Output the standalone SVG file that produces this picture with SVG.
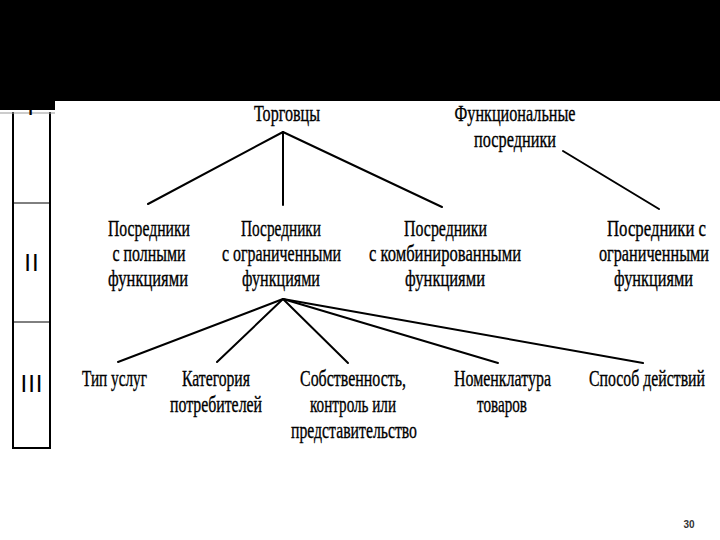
<svg xmlns="http://www.w3.org/2000/svg" width="720" height="540" viewBox="0 0 720 540">
<style>
.t{font-family:"Liberation Serif","Times New Roman",serif;font-size:22.5px;fill:#000;stroke:#000;stroke-width:0.35;text-anchor:middle}
.lv{font-family:"Liberation Sans",Arial,sans-serif;font-size:24px;fill:#000;text-anchor:middle;letter-spacing:1px}
.c{stroke:#000;stroke-width:2;fill:none;stroke-linecap:round}
.pg{font-family:"Liberation Sans",Arial,sans-serif;font-size:10px;font-weight:bold;fill:#333;text-anchor:middle}
</style>
<rect width="720" height="540" fill="#fff"/>
<g id="levels">
<line x1="13" y1="112" x2="13" y2="448" stroke="#000" stroke-width="2"/>
<line x1="50" y1="112" x2="50" y2="448" stroke="#000" stroke-width="2"/>
<line x1="13" y1="203" x2="50" y2="203" stroke="#000" stroke-width="1"/>
<line x1="13" y1="322" x2="50" y2="322" stroke="#000" stroke-width="1"/>
<line x1="12" y1="448" x2="51" y2="448" stroke="#000" stroke-width="2"/>
<line x1="0" y1="113" x2="55" y2="113" stroke="#999" stroke-width="1"/>
<text class="lv" x="31" y="115">I</text>
<text class="lv" x="32" y="271">II</text>
<text class="lv" x="32" y="392">III</text>
</g>
<rect x="0" y="0" width="720" height="101" fill="#000"/>
<rect x="0" y="0" width="55" height="110" fill="#000"/>
<g id="connectors">
<line class="c" x1="283" y1="132" x2="148" y2="204"/>
<line class="c" x1="283" y1="132" x2="283" y2="205"/>
<line class="c" x1="283" y1="132" x2="442" y2="207"/>
<line class="c" x1="563" y1="151" x2="659" y2="209"/>
<line class="c" x1="283" y1="299" x2="118" y2="362"/>
<line class="c" x1="283" y1="299" x2="217" y2="362"/>
<line class="c" x1="283" y1="299" x2="348" y2="363"/>
<line class="c" x1="283" y1="299" x2="498" y2="363"/>
<line class="c" x1="283" y1="299" x2="643" y2="363"/>
</g>
<g id="n-torgovtsy"><text class="t" transform="translate(287,121) scale(0.72,1)" textLength="91.7" lengthAdjust="spacingAndGlyphs">Торговцы</text></g>
<g id="n-funktsionalnye">
<text class="t" transform="translate(515,121) scale(0.72,1)" textLength="168" lengthAdjust="spacingAndGlyphs">Функциональные</text>
<text class="t" transform="translate(515,147) scale(0.72,1)" textLength="113.9" lengthAdjust="spacingAndGlyphs">посредники</text>
</g>
<g id="n-polnye">
<text class="t" transform="translate(149,236) scale(0.72,1)" textLength="113.9" lengthAdjust="spacingAndGlyphs">Посредники</text>
<text class="t" transform="translate(149,261) scale(0.72,1)" textLength="101.4" lengthAdjust="spacingAndGlyphs">с  полными</text>
<text class="t" transform="translate(148,286) scale(0.72,1)" textLength="111.1" lengthAdjust="spacingAndGlyphs">функциями</text>
</g>
<g id="n-ogranichennye">
<text class="t" transform="translate(281,236) scale(0.72,1)" textLength="111.1" lengthAdjust="spacingAndGlyphs">Посредники</text>
<text class="t" transform="translate(281.5,261) scale(0.72,1)" textLength="165.3" lengthAdjust="spacingAndGlyphs">с  ограниченными</text>
<text class="t" transform="translate(281,286) scale(0.72,1)" textLength="108.3" lengthAdjust="spacingAndGlyphs">функциями</text>
</g>
<g id="n-kombinirovannye">
<text class="t" transform="translate(445.5,236) scale(0.72,1)" textLength="115.3" lengthAdjust="spacingAndGlyphs">Посредники</text>
<text class="t" transform="translate(445,261) scale(0.72,1)" textLength="211.1" lengthAdjust="spacingAndGlyphs">с  комбинированными</text>
<text class="t" transform="translate(445,286) scale(0.72,1)" textLength="111.1" lengthAdjust="spacingAndGlyphs">функциями</text>
</g>
<g id="n-funk-ogranichennye">
<text class="t" transform="translate(656.5,236) scale(0.72,1)" textLength="137.5" lengthAdjust="spacingAndGlyphs">Посредники  с</text>
<text class="t" transform="translate(654,261) scale(0.72,1)" textLength="152.8" lengthAdjust="spacingAndGlyphs">ограниченными</text>
<text class="t" transform="translate(653.5,286) scale(0.72,1)" textLength="109.7" lengthAdjust="spacingAndGlyphs">функциями</text>
</g>
<g id="n-tip"><text class="t" transform="translate(114.5,386) scale(0.72,1)" textLength="90.3" lengthAdjust="spacingAndGlyphs">Тип  услуг</text></g>
<g id="n-kategoriya">
<text class="t" transform="translate(216,386) scale(0.72,1)" textLength="94.4" lengthAdjust="spacingAndGlyphs">Категория</text>
<text class="t" transform="translate(216,412) scale(0.72,1)" textLength="127.8" lengthAdjust="spacingAndGlyphs">потребителей</text>
</g>
<g id="n-sobstvennost">
<text class="t" transform="translate(353,386) scale(0.72,1)" textLength="147.2" lengthAdjust="spacingAndGlyphs">Собственность,</text>
<text class="t" transform="translate(353,412) scale(0.72,1)" textLength="119.4" lengthAdjust="spacingAndGlyphs">контроль или</text>
<text class="t" transform="translate(354,438) scale(0.72,1)" textLength="175" lengthAdjust="spacingAndGlyphs">представительство</text>
</g>
<g id="n-nomenklatura">
<text class="t" transform="translate(502.5,386) scale(0.72,1)" textLength="134.7" lengthAdjust="spacingAndGlyphs">Номенклатура</text>
<text class="t" transform="translate(502,412) scale(0.72,1)" textLength="69.4" lengthAdjust="spacingAndGlyphs">товаров</text>
</g>
<g id="n-sposob"><text class="t" transform="translate(647,386) scale(0.72,1)" textLength="161.1" lengthAdjust="spacingAndGlyphs">Способ  действий</text></g>
<text class="pg" x="689" y="528">30</text>
</svg>
